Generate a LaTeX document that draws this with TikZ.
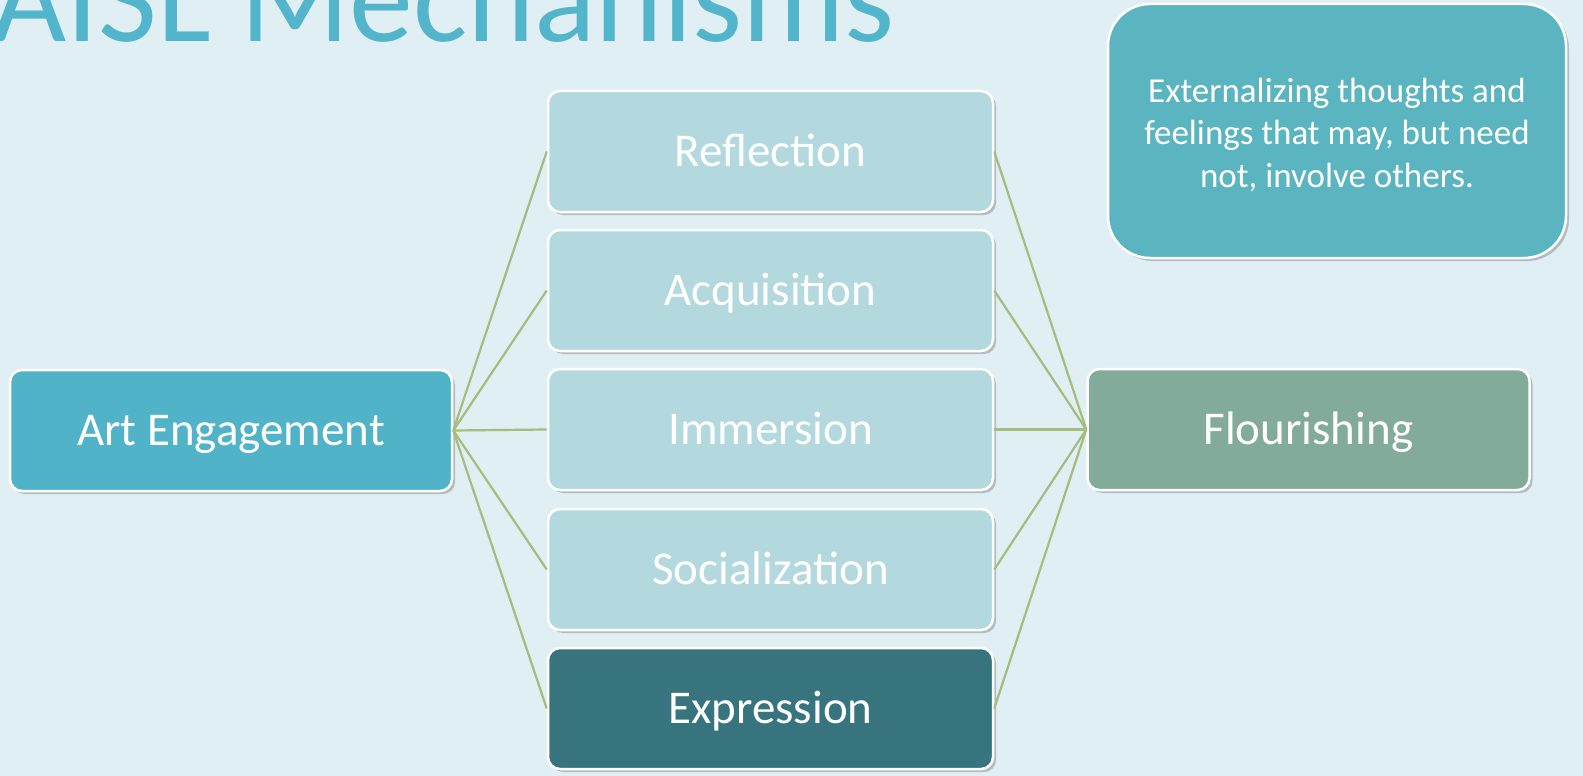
\documentclass[tikz,border=0pt]{standalone}
\usepackage{fontspec}
\setmainfont{Carlito}
\usetikzlibrary{shadows}
\definecolor{bgc}{HTML}{E0EFF3}
\definecolor{titlec}{HTML}{52B5CB}
\definecolor{aec}{HTML}{50B3C8}
\definecolor{midc}{HTML}{B3D9DF}
\definecolor{expc}{HTML}{37747D}
\definecolor{flc}{HTML}{82AB9A}
\definecolor{callc}{HTML}{5BB5C0}
\definecolor{linec}{HTML}{A4BD7D}
\tikzset{
  boxbase/.style={rounded corners=12pt, draw=white, line width=2.5pt, minimum height=121pt,
    text=white, font=\fontsize{47}{56}\selectfont, text height=30pt, text depth=0pt, inner sep=0pt,
    drop shadow={shadow xshift=3pt, shadow yshift=-3pt, opacity=0.3, fill=black!70}},
  sidebox/.style={boxbase, minimum width=442pt},
  midbox/.style={boxbase, minimum width=445pt, fill=midc},
  link/.style={draw=linec, line width=2.2pt},
  callout/.style={rounded corners=42pt, draw=white, line width=2.5pt, fill=callc,
    minimum width=458pt, minimum height=254pt, inner sep=0pt,
    drop shadow={shadow xshift=3pt, shadow yshift=-3pt, opacity=0.3, fill=black!70}},
  calltext/.style={text=white, align=center, inner sep=0pt, font=\fontsize{35}{42.5}\selectfont},
}
\begin{document}
\begin{tikzpicture}[x=1pt,y=-1pt]
\useasboundingbox (0,0) rectangle (1583,776);
\clip (0,0) rectangle (1583,776);
\fill[bgc] (0,0) rectangle (1583,776);
\node[anchor=base west, inner sep=0pt, text=titlec, font=\fontsize{128}{132}\selectfont] (title) at (-8,42) {AISL Mechanisms};
\node[sidebox, fill=aec] (ae) at (231,430.5) {Art Engagement};
\node[midbox] (refl) at (770.5,151.5) {Reflection};
\node[midbox] (acq) at (770.5,290.5) {Acquisition};
\node[midbox] (imm) at (770.5,429.5) {Immersion};
\node[midbox] (soc) at (770.5,569.5) {Socialization};
\node[midbox, fill=expc] (expr) at (770.5,708.5) {Expression};
\node[sidebox, fill=flc] (fl) at (1308.5,429.5) {Flourishing};
\node[callout] (call) at (1337,131) {};
\node[calltext] (calltxt) at ([yshift=-4pt]call.center) {Externalizing thoughts and\\feelings that may, but need\\not, involve others.};
\foreach \m in {refl,acq,imm,soc,expr}{
  \draw[link] (ae.east) -- (\m.west);
  \draw[link] (\m.east) -- (fl.west);
}
\end{tikzpicture}
\end{document}
